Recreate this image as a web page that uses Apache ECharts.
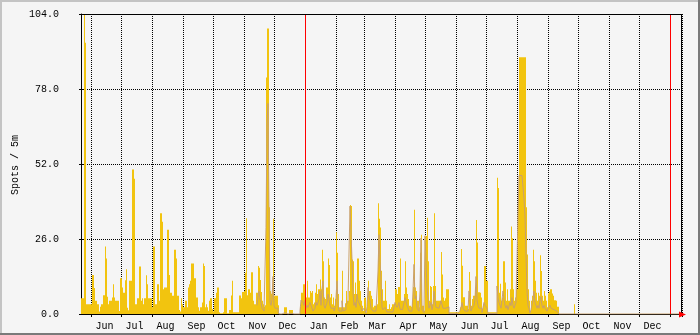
<!DOCTYPE html>
<html><head><meta charset="utf-8">
<script src="https://cdn.jsdelivr.net/npm/echarts@6/dist/echarts.min.js"></script>
<style>html,body{margin:0;padding:0;background:#F5F5F5}#c{width:700px;height:335px}</style>
</head><body><div id="c"></div>
<script>
// ---- categories (one per day) ----
const startDate = '2013-05-22';
const endDate = '2015-01-12';
const monthLabels = ['Jan','Feb','Mar','Apr','May','Jun','Jul','Aug','Sep','Oct','Nov','Dec'];
const yTickValues = [0, 26, 52, 78, 104];
const yAxisTitle = 'Spots / 5m';
const yearMarks = ['2014-01-01', '2015-01-01'];

// ---- series: daily maximum (yellow area), from startDate ----
const maxSpots = [
5.5,5.5,5.5,104,94,3.4,3.4,3.4,3.4,3.4,
3.4,13.5,13.5,9,4.6,4.6,3.4,3.4,0.9,2.5,
3.4,3.4,6.5,6.5,23.4,19.2,6,3.4,4.6,4.6,
4.6,5.7,10.3,5.7,4.6,4.6,4.6,4.6,1,12.4,
12.4,9.2,7.4,7.4,11.7,15.5,2.2,1.3,11.5,11.5,
11.5,50.1,50.1,46.9,3.4,3.4,5.5,5.5,16.5,16.5,
4.6,5.5,3.4,5.5,5.5,13.4,10.3,5.5,5.5,5.5,
5.5,2.3,23.4,23.4,3.4,3.4,10.3,10.3,4.6,34.9,
34.9,32,8.6,9.2,9.2,9.2,29.2,29.2,13.5,7.4,
7.4,6.3,6.3,22.3,22.3,19.2,6.3,6.3,1.4,0.9,
5.5,3.4,2.3,2.3,4.6,4.6,2.3,9.2,10.3,11.5,
17.5,17.5,17.5,12.4,12.4,5.7,5.7,2.3,1.1,2.3,
2.3,4,17.5,16.6,2.3,3.4,2.3,1.1,4.6,5.5,
5.5,1.7,0.9,5.5,5.5,7.4,9.2,9.2,0.6,0.3,
0.3,0.3,0.6,5.5,5.5,5.5,0.3,0.3,1.4,1.4,
6.4,11.5,0.6,0.6,0.6,0.6,0.6,0.6,6.4,6.4,
5.5,7.6,7.6,8,14.3,33.2,6.5,8.6,8.6,7.4,
14.5,14.5,4.6,3.4,3.4,7.4,7.4,16.6,16,11.8,
7.6,4.6,3.4,2.5,3,82,99,99,37,8,
7,9.2,33,6.3,6.3,6.3,6.3,3,0,0,
0,0,0,2.3,2.3,2.3,0,0,1.4,1.4,
1.4,1.4,0,0,0,0,0,0,0,2.5,
7.4,7.4,10.3,10.3,10.3,5.7,11.5,5.7,5.7,8,
7.4,8,3.4,4,7.4,10.3,6.9,8.6,8.6,12,
8.6,22.3,18.3,5.7,5.2,9.2,9.2,19.2,17,5.7,
6.9,3.4,5.7,2.9,5.2,28.3,21.2,6.9,2.3,2.3,
2.3,15,2.3,2.3,3.7,8,4.6,4.6,8,37.8,
37.4,18.9,18.3,6.9,10.9,6.9,19.2,19.2,11.5,8,
4.6,2.9,1.1,5.5,5.7,0.5,6.3,11.5,8,8,
6.3,5.2,2.3,2.9,2.9,2.9,3.4,38.4,33,30,
15,8.6,4.6,4.6,11.5,4.6,1.7,1.7,3.4,1.7,
2.3,3.4,3.4,3.4,8.6,8.6,6.9,9.4,9.4,19.2,
4.6,4.6,4.6,6.9,18.3,9.2,6.9,5.2,2.9,2.9,
2.5,4.6,9.4,36.1,9.2,8,4.6,4.6,2.3,21.2,
27.5,2.9,2.9,1.1,27.1,27,33.4,18.3,4.6,9.7,
9.4,3.4,9.7,34.9,9.7,4.6,4.6,4.6,4.6,4.6,
21.5,13.7,5.7,4.6,5.5,8.6,8.6,8.6,0.6,0.6,
0.6,0.6,0.6,0.6,0.6,0.6,0.6,0.6,0.6,2.3,
22.5,16.7,5.8,5.8,2.9,2.9,2.9,1.7,14.6,11.5,
2.9,5.2,6.3,6.3,9.2,32.6,24.8,7.5,7.5,7.4,
5.7,1.7,3.4,16.6,16.6,11.5,11.5,0.6,0.6,0.6,
0.6,0.6,0.6,0.6,0.6,0.6,47.2,43.7,7.4,10.5,
4.6,5.7,18.3,18.3,10.9,4.6,8.6,4.6,4.6,8.6,
30.3,26.3,8.6,4.6,5.7,8.6,8.6,40,89,89,
89,89,89,89,89,37,20.6,8.6,4.6,0.6,
4.6,6.3,22.3,18.3,11.5,7.4,4.6,7.4,6.3,20.4,
14.9,6.3,4.6,8,6.3,4.6,2.3,7.1,7.8,8.6,
8.6,7.1,6.3,4.8,4.8,4.6,2.5,2.5,0,0,
0,0,0,0,0,0,0,0,0,0,
0,0,0,3.4
];

// ---- series: daily average (tan line), from avgStartDate ----
const avgStartDate = '2013-11-14';
const avgSpots = [
3,6,8,5,4,2,1.5,1,1.5,30,
66,73,36,4,3,5,13,3,2,2,
2,1,0,0,0,0,0,0.5,0.5,0.5,
0,0,0.3,0.3,0.3,0.3,0,0,0,0,
0,0,0,1,4.8,4.8,4,3,4.8,2,
3,2.3,2,4,3,2.5,1,1.5,2,4,
3,2.5,5,8,3,8.6,11.5,3,2,2.3,
4,6.9,5.2,3,2,1.7,2,1,2,5.7,
11.5,3,1,1,1,4.6,1,1.1,1.5,2.9,
3,4.6,5,37.4,37,18.9,7.4,3,4,2.3,
6.9,4.6,5,3,2.3,1,0.5,2,2,0.3,
2.5,9.2,6,4.6,2,1.5,1,1,1,1,
1,14.9,27.5,18.3,11.5,2.3,1.5,1.5,2.3,1.5,
0.7,0.7,0.7,0.7,0.7,0.7,0.7,0.7,4,3,
2.3,3,4,1.7,1.5,1.5,1.5,1.5,5.7,6.3,
3,2,1,1,1,1,8,17.2,5.2,6.3,
2,2,1,8,26.3,1.5,1,0.5,27.1,18.3,
9.2,9.7,2,2.3,4,1.5,3,8,4.6,2.3,
2.3,2,2,2,4.6,4,2,1.5,2,2.5,
2.5,2.5,0.2,0.2,0.2,0.2,0.2,0.2,0.2,0.2,
0.2,0.2,0.2,1.2,2.3,4,2,2,1,1,
1,1,8,5,1,2,2.3,3,5,13,
5,3,2,2,2,0.5,1,4,3,3,
2,0.2,0.2,0.2,0.2,0.2,0.2,0.2,0.2,0.2,
9.7,5.7,4,4.6,2,2,8,5.2,3,2,
3,1.5,1.5,4,2.9,5.7,3,2,2,4,
4,34,48,48,48,48,48,40,34,20.6,
8,3,2,0.3,1.5,2,5,8,4,3,
2,3,2,5,6,3,2,3,2,1.5,
1,2,2.5,3,2,2,1.5,1,1,1,
0.5,0.5,0,0,0,0,0,0,0,0,
0,0,0,0,0,0,0,0.5,0,0,
0,0,0,0,0,0,0,0,0,0,
0,0,0,0,0,0,0,0,0,0,
0,0,0,0,0,0,0,0,0,0,
0,0,0,0,0,0,0,0,0,0,
0,0,0,0,0,0,0,0,0,0,
0,0,0,0,0,0,0,0,0,0,
0,0,0,0,0,0,0,0,0,0,
0,0,0,0,0,0,0,0,0,0,
0,0,0,0,0,0,0,0,0,0,
0,0,0,0,0,0,0,0,0,0,
0,0,0,0,0
];

// ---- build day categories ----
function fmt(d){return d.toISOString().slice(0,10);}
const days = [];
for (let d = new Date(startDate+'T00:00:00Z'); fmt(d) <= endDate; d.setUTCDate(d.getUTCDate()+1)) days.push(fmt(d));
const avgOffset = days.indexOf(avgStartDate);
const avgData = days.map((_, i) => (i >= avgOffset && i - avgOffset < avgSpots.length) ? avgSpots[i - avgOffset] : null);
const maxData = days.map((_, i) => i < maxSpots.length ? maxSpots[i] : null);

const FONT = 'Liberation Mono';
const yMin = yTickValues[0], yMax = yTickValues[yTickValues.length-1], yStep = yTickValues[1]-yTickValues[0];
const chart = echarts.init(document.getElementById('c'), null, {renderer:'canvas'});
chart.setOption({
  animation: false,
  backgroundColor: '#F5F5F5',
  grid: {left: 81, top: 14, width: 601, height: 300, containLabel: false},
  xAxis: {
    type: 'category', data: days, boundaryGap: true,
    axisLine: {show: true, lineStyle: {color: '#000', width: 1}},
    axisTick: {show: true, length: 3, interval: (i, v) => v.endsWith('-01'), lineStyle: {color: '#000'}},
    axisLabel: {interval: (i, v) => v.endsWith('-14'), formatter: v => monthLabels[+v.slice(5,7) - 1],
      fontFamily: FONT, fontSize: 10, color: '#000', margin: 7},
    splitLine: {show: true, interval: (i, v) => v.endsWith('-01'), lineStyle: {color: '#000', width: 1, type: [1, 1]}}
  },
  yAxis: [{
    type: 'value', min: yMin, max: yMax, interval: yStep,
    axisLine: {show: true, lineStyle: {color: '#000', width: 1}},
    axisTick: {show: true, length: 2, lineStyle: {color: '#000'}},
    axisLabel: {formatter: v => v.toFixed(1), fontFamily: FONT, fontSize: 10, color: '#000', margin: 22, padding: [3, 0, 0, 0]},
    splitLine: {show: true, lineStyle: {color: '#000', width: 1, type: [1, 1]}}
  }, {
    type: 'value', min: yMin, max: yMax, interval: yStep, position: 'left',
    axisLine: {show: false}, axisLabel: {show: false}, splitLine: {show: false},
    axisTick: {show: true, inside: true, length: 4, lineStyle: {color: '#000'}}
  }],
  series: [
    {type: 'bar', data: maxData, barWidth: '100%', barCategoryGap: '0%', itemStyle: {color: '#F2C40F'},
     silent: true,
     markLine: {silent: true, symbol: ['none','none'], label: {show: false},
       lineStyle: {color: '#FF0000', width: 1, type: 'solid'},
       emphasis: {disabled: true},
       data: yearMarks.map(d => ({xAxis: d}))}},
    {type: 'line', data: avgData, step: 'middle', showSymbol: false, symbol: 'none', silent: true,
     lineStyle: {color: '#C9A06C', width: 1}, connectNulls: false}
  ],
  graphic: [
    {type: 'line', shape: {x1: 81, y1: 14.5, x2: 682, y2: 14.5}, style: {stroke: '#000', lineWidth: 1}, z: 100},
    {type: 'line', shape: {x1: 681.5, y1: 14, x2: 681.5, y2: 314}, style: {stroke: '#000', lineWidth: 1}, z: 100},
    {type: 'polygon', shape: {points: [[679, 311.5], [686, 314.5], [679, 317.5]]}, style: {fill: '#FF0000'}, z: 100},
    {type: 'text', x: 15, y: 165, rotation: Math.PI / 2,
     style: {text: yAxisTitle, font: '10px "Liberation Mono"', fill: '#000', align: 'center', verticalAlign: 'middle'}, z: 100},
    {type: 'rect', shape: {x: 0, y: 0, width: 700, height: 2}, style: {fill: '#C4C4C4'}, z: 100},
    {type: 'rect', shape: {x: 0, y: 0, width: 2, height: 335}, style: {fill: '#C4C4C4'}, z: 100},
    {type: 'rect', shape: {x: 0, y: 333, width: 700, height: 2}, style: {fill: '#7A7A7A'}, z: 100},
    {type: 'rect', shape: {x: 698, y: 0, width: 2, height: 335}, style: {fill: '#7A7A7A'}, z: 100}
  ]
});
</script></body></html>
